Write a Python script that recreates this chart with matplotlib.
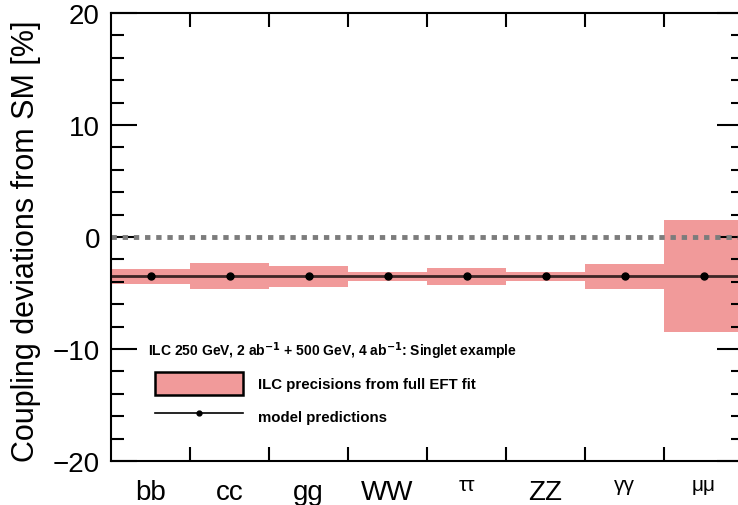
import numpy as np
import matplotlib.pyplot as plt
from matplotlib.patches import Patch
from matplotlib.lines import Line2D

plt.rcParams['font.family'] = ['Liberation Sans', 'DejaVu Sans']

# couplings and values (in %)
couplings = ['bb', 'cc', 'gg', 'WW', 'ττ', 'ZZ', 'γγ', 'μμ']
model_pred = [-3.5, -3.5, -3.5, -3.5, -3.5, -3.5, -3.5, -3.5]
prec_up = [-2.9, -2.35, -2.6, -3.1, -2.75, -3.1, -2.4, 1.5]
prec_down = [-4.2, -4.65, -4.45, -3.9, -4.3, -3.9, -4.6, -8.5]

pink = '#F19A9A'
n = len(couplings)
x = np.arange(n) + 0.5

fig = plt.figure(figsize=(7.38, 5.06), dpi=100)
ax = fig.add_axes([111/738, 1-462/506, 632/738, 448/506])

# precision boxes
for i in range(n):
    ax.fill_between([i, i+1], prec_down[i], prec_up[i], color=pink, lw=0, zorder=1)

# SM line
ax.axhline(0, color='#7c7c7c', lw=3.5, ls=(0, (1.1, 1.2)), zorder=2)

# model predictions
ax.plot([0, n], [model_pred[0], model_pred[-1]], color='black', lw=2, alpha=0.75, zorder=3)
ax.plot(x, model_pred, 'o', color='black', ms=5, zorder=4)

ax.set_xlim(0, n)
ax.set_ylim(-20, 20)

# x axis: ticks at bin edges, labels at bin centres
ax.set_xticks(np.arange(1, n), minor=True)
ax.set_xticks(x)
ax.set_xticklabels(couplings)
for lab in ax.get_xticklabels():
    if lab.get_text() in ('ττ', 'γγ', 'μμ'):
        lab.set_fontsize(15)
        lab.set_y(0.008)
    else:
        lab.set_fontsize(20)
ax.tick_params(axis='x', which='major', length=0, pad=13)
ax.tick_params(axis='x', which='minor', direction='in', length=10, width=1.5, top=True, bottom=True)

ax.set_yticks([-20, -10, 0, 10, 20])
ax.set_yticks(np.arange(-18, 20, 2), minor=True)
ax.tick_params(axis='y', which='major', direction='in', length=19, width=1.5, labelsize=20,
               left=True, right=True, pad=8)
ax.tick_params(axis='y', which='minor', direction='in', length=9, width=1.5, left=True, right=True)
ax.set_yticklabels(['−20', '−10', '0', '10', '20'])
for s in ax.spines.values():
    s.set_linewidth(1.5)

ax.set_ylabel('Coupling deviations from SM [%]', fontsize=22)
ax.yaxis.set_label_coords(-0.11, 0.492)

# legend
ax.text(0.058, 0.248, r'ILC 250 GeV, 2 ab$^{\mathbf{-1}}$ + 500 GeV, 4 ab$^{\mathbf{-1}}$: Singlet example',
        transform=ax.transAxes, fontsize=10, fontweight='bold', va='center', ha='left')
handles = [Patch(facecolor=pink, edgecolor='black', lw=1.8),
           Line2D([0], [0], color='black', lw=1.2, marker='o', ms=3.5)]
labels = ['ILC precisions from full EFT fit', 'model predictions']
leg = ax.legend(handles, labels, loc='upper left', bbox_to_anchor=(0.0696, 0.199),
                frameon=False, prop={'size': 10.8, 'weight': 'bold'},
                handlelength=5.9, handleheight=2.0, handletextpad=1.0,
                labelspacing=0.67, borderpad=0, borderaxespad=0)

fig.savefig('out.png', dpi=100)
